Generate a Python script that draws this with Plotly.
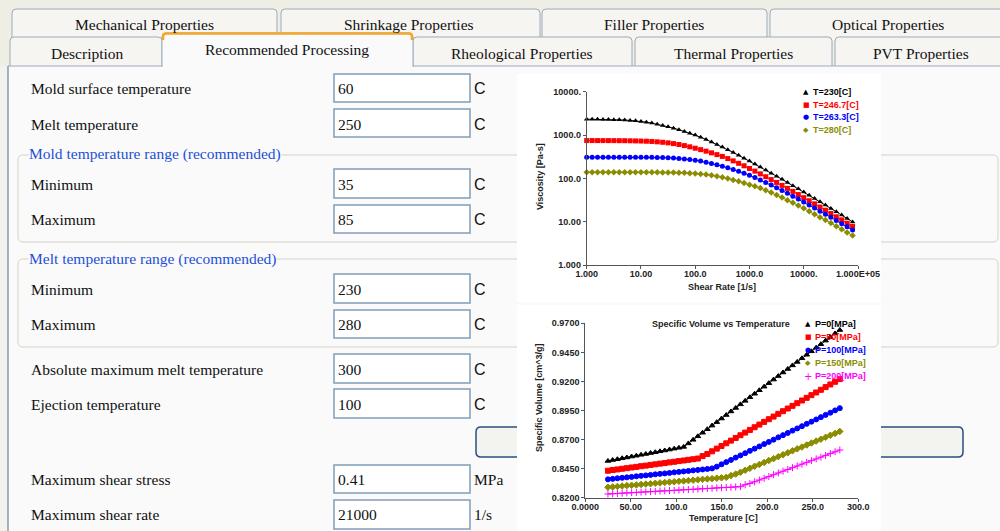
import plotly.graph_objects as go

# ---------------- data ----------------
shear_rate = [1.0, 1.259, 1.585, 1.995, 2.512, 3.162, 3.981, 5.012, 6.310, 7.943,
              10.0, 12.59, 15.85, 19.95, 25.12, 31.62, 39.81, 50.12, 63.10, 79.43,
              100.0, 125.9, 158.5, 199.5, 251.2, 316.2, 398.1, 501.2, 631.0, 794.3,
              1000, 1259, 1585, 1995, 2512, 3162, 3981, 5012, 6310, 7943,
              10000, 12589, 15849, 19953, 25119, 31623, 39811, 50119, 63096, 79433]
visc_230 = [2317, 2312, 2307, 2296, 2280, 2265, 2245, 2215, 2175, 2125,
            2060, 1980, 1885, 1780, 1670, 1555, 1440, 1325, 1210, 1102,
            1000, 891, 789, 693, 607, 528, 458, 395, 340, 292,
            251, 214, 183, 156, 132, 112, 95.1, 80.4, 67.9, 57.3,
            48.3, 40.6, 34.2, 28.7, 24.1, 20.2, 16.9, 14.2, 11.8, 9.89]
visc_2467 = [745, 745, 744, 744, 743, 743, 741, 740, 736, 731,
             726, 719, 710, 697, 680, 660, 634, 604, 570, 534,
             496, 460, 424, 388, 353, 321, 286, 253, 222, 195,
             169, 147, 127, 109, 93.6, 80.5, 68.6, 58.7, 50.0, 42.3,
             35.9, 30.5, 25.8, 21.8, 18.4, 15.5, 13.0, 11.0, 9.20, 7.73]
visc_2633 = [308, 308, 308, 308, 308, 308, 307, 307, 307, 307,
             306, 306, 305, 303, 301, 298, 294, 288, 281, 273,
             263, 250, 236, 221, 205, 190, 175, 160, 146, 132,
             118, 104, 91.8, 80.4, 69.9, 60.7, 52.3, 45.0, 38.7, 33.2,
             28.3, 24.2, 20.7, 17.5, 14.8, 12.6, 10.6, 8.99, 7.59, 6.40]
visc_280 = [139, 139, 139, 139, 139, 139, 138, 138, 138, 138,
            138, 138, 138, 138, 137, 137, 136, 135, 134, 132,
            129, 126, 122, 118, 112, 106, 99.0, 92.0, 85.2, 78.4,
            71.6, 65.6, 59.6, 53.1, 47.0, 41.3, 36.2, 31.4, 27.3, 23.5,
            20.3, 17.4, 14.9, 12.7, 10.9, 9.29, 7.86, 6.67, 5.66, 4.79]
visc_names = ["T=230[C]", "T=246.7[C]", "T=263.3[C]", "T=280[C]"]
visc_xticks = [1, 10, 100, 1000, 10000, 100000]
visc_xticktext = ["1.000", "10.00", "100.0", "1000.0", "10000.", "1.000E+05"]
visc_yticks = [1, 10, 100, 1000, 10000]
visc_yticktext = ["1.000", "10.00", "100.0", "1000.0", "10000."]

temperature = [25.0, 30.2, 35.4, 40.6, 45.8, 51.0, 56.2, 61.4, 66.6, 71.8,
               77.0, 82.2, 87.4, 92.6, 97.8, 103.0, 108.2, 113.4, 118.6, 123.8,
               129.0, 134.2, 139.4, 144.6, 149.8, 155.0, 160.2, 165.4, 170.6, 175.8,
               181.0, 186.2, 191.4, 196.6, 201.8, 207.0, 212.2, 217.4, 222.6, 227.8,
               233.0, 238.2, 243.4, 248.6, 253.8, 259.0, 264.2, 269.4, 274.6, 279.8]
sv_p0 = [0.8516, 0.8524, 0.8531, 0.8539, 0.8546, 0.8554, 0.8561, 0.8569, 0.8576, 0.8584,
         0.8591, 0.8599, 0.8606, 0.8614, 0.8622, 0.8629, 0.8637, 0.8667, 0.8698, 0.8728,
         0.8759, 0.8789, 0.8820, 0.8850, 0.8881, 0.8911, 0.8942, 0.8972, 0.9003, 0.9033,
         0.9064, 0.9094, 0.9124, 0.9155, 0.9185, 0.9216, 0.9246, 0.9277, 0.9307, 0.9338,
         0.9368, 0.9399, 0.9429, 0.9459, 0.9490, 0.9520, 0.9551, 0.9581, 0.9612, 0.9642]
sv_p50 = [0.8432, 0.8438, 0.8443, 0.8449, 0.8454, 0.8460, 0.8465, 0.8471, 0.8476, 0.8482,
          0.8487, 0.8493, 0.8498, 0.8504, 0.8509, 0.8515, 0.8520, 0.8526, 0.8531, 0.8537,
          0.8558, 0.8576, 0.8599, 0.8622, 0.8645, 0.8668, 0.8691, 0.8714, 0.8737, 0.8760,
          0.8783, 0.8806, 0.8829, 0.8852, 0.8875, 0.8898, 0.8921, 0.8944, 0.8967, 0.8990,
          0.9013, 0.9036, 0.9059, 0.9082, 0.9105, 0.9128, 0.9151, 0.9174, 0.9197, 0.9220]
sv_p100 = [0.8358, 0.8362, 0.8367, 0.8371, 0.8375, 0.8379, 0.8384, 0.8388, 0.8392, 0.8396,
           0.8401, 0.8405, 0.8409, 0.8413, 0.8418, 0.8422, 0.8426, 0.8430, 0.8435, 0.8439,
           0.8443, 0.8447, 0.8452, 0.8467, 0.8487, 0.8506, 0.8525, 0.8545, 0.8564, 0.8583,
           0.8603, 0.8622, 0.8641, 0.8661, 0.8680, 0.8699, 0.8719, 0.8738, 0.8757, 0.8777,
           0.8796, 0.8815, 0.8835, 0.8854, 0.8873, 0.8893, 0.8912, 0.8931, 0.8951, 0.8970]
sv_p150 = [0.8290, 0.8293, 0.8297, 0.8300, 0.8304, 0.8307, 0.8310, 0.8314, 0.8317, 0.8320,
           0.8324, 0.8327, 0.8331, 0.8334, 0.8337, 0.8341, 0.8344, 0.8347, 0.8351, 0.8354,
           0.8358, 0.8361, 0.8364, 0.8368, 0.8371, 0.8375, 0.8390, 0.8403, 0.8419, 0.8436,
           0.8453, 0.8470, 0.8486, 0.8503, 0.8520, 0.8536, 0.8553, 0.8570, 0.8586, 0.8603,
           0.8620, 0.8636, 0.8653, 0.8670, 0.8687, 0.8703, 0.8720, 0.8737, 0.8753, 0.8770]
sv_p200 = [0.8232, 0.8234, 0.8236, 0.8239, 0.8241, 0.8243, 0.8245, 0.8248, 0.8250, 0.8252,
           0.8254, 0.8257, 0.8259, 0.8261, 0.8263, 0.8266, 0.8268, 0.8270, 0.8272, 0.8275,
           0.8277, 0.8279, 0.8281, 0.8284, 0.8286, 0.8288, 0.8290, 0.8293, 0.8295, 0.8312,
           0.8322, 0.8337, 0.8352, 0.8367, 0.8382, 0.8398, 0.8413, 0.8428, 0.8443, 0.8458,
           0.8473, 0.8489, 0.8504, 0.8519, 0.8534, 0.8549, 0.8564, 0.8580, 0.8595, 0.8610]
pvt_names = ["P=0[MPa]", "P=50[MPa]", "P=100[MPa]", "P=150[MPa]", "P=200[MPa]"]
pvt_xticks = [0, 50, 100, 150, 200, 250, 300]
pvt_xticktext = ["0.0000", "50.00", "100.0", "150.0", "200.0", "250.0", "300.0"]
pvt_yticks = [0.82, 0.845, 0.87, 0.895, 0.92, 0.945, 0.97]
pvt_yticktext = ["0.8200", "0.8450", "0.8700", "0.8950", "0.9200", "0.9450", "0.9700"]

tabs_row1 = ["Mechanical Properties", "Shrinkage Properties", "Filler Properties", "Optical Properties"]
tabs_row2 = ["Description", "Recommended Processing", "Rheological Properties", "Thermal Properties", "PVT Properties"]
field_labels = ["Mold surface temperature", "Melt temperature", "Minimum", "Maximum", "Minimum", "Maximum",
                "Absolute maximum melt temperature", "Ejection temperature", "Maximum shear stress", "Maximum shear rate"]
field_values = ["60", "250", "35", "85", "230", "280", "300", "100", "0.41", "21000"]
field_units = ["C", "C", "C", "C", "C", "C", "C", "C", "MPa", "1/s"]
group_titles = ["Mold temperature range (recommended)", "Melt temperature range (recommended)"]

# ---------------- helpers ----------------
W, H = 1000, 531
SERIF = "Liberation Serif"
SANS = "Liberation Sans"


def X(p):
    return p / W


def Y(p):
    return 1 - p / H


shapes = []
annotations = []


def rect(x0, y0, x1, y1, fill, line=None, lw=1):
    shapes.append(dict(type="rect", xref="paper", yref="paper", x0=X(x0), x1=X(x1), y0=Y(y1), y1=Y(y0),
                       fillcolor=fill, layer="below",
                       line=dict(color=line if line else "rgba(0,0,0,0)", width=lw if line else 0)))


def P(x, y):
    return f"{X(x):.5f},{Y(y):.5f}"


def rpath(x0, y0, x1, y1, r, top_only=False):
    if top_only:
        return (f"M{P(x0, y1)} L{P(x0, y0 + r)} Q{P(x0, y0)} {P(x0 + r, y0)} "
                f"L{P(x1 - r, y0)} Q{P(x1, y0)} {P(x1, y0 + r)} L{P(x1, y1)}")
    return (f"M{P(x0 + r, y0)} L{P(x1 - r, y0)} Q{P(x1, y0)} {P(x1, y0 + r)} L{P(x1, y1 - r)} "
            f"Q{P(x1, y1)} {P(x1 - r, y1)} L{P(x0 + r, y1)} Q{P(x0, y1)} {P(x0, y1 - r)} "
            f"L{P(x0, y0 + r)} Q{P(x0, y0)} {P(x0 + r, y0)} Z")


def path(d, fill, line, lw=1):
    shapes.append(dict(type="path", xref="paper", yref="paper", path=d, fillcolor=fill,
                       line=dict(color=line, width=lw), layer="below"))


def hline(x0, x1, y, color, lw=1):
    shapes.append(dict(type="line", xref="paper", yref="paper", x0=X(x0), x1=X(x1), y0=Y(y), y1=Y(y),
                       line=dict(color=color, width=lw), layer="below"))


def vline(x, y0, y1, color, lw=1):
    shapes.append(dict(type="line", xref="paper", yref="paper", x0=X(x), x1=X(x), y0=Y(y0), y1=Y(y1),
                       line=dict(color=color, width=lw), layer="below"))


def text(x, y, s, size=15.5, color="#101010", family=SERIF, xanchor="left", angle=0, bold=False, bg=None):
    a = dict(x=X(x), y=Y(y), xref="paper", yref="paper", text=s, showarrow=False,
             xanchor=xanchor, yanchor="middle", textangle=angle,
             font=dict(family=family, size=size, color=color, weight="bold" if bold else "normal"))
    if bg:
        a["bgcolor"] = bg
        a["borderpad"] = 0
    annotations.append(a)


BODY = "#fafafa"
TAB_LINE = "#9eabbd"

# ---------------- dialog background ----------------
rect(0, 0, 1000, 66, "#efeee5")
rect(0, 66, 8, 531, "#f1f1ed")
rect(8, 66, 1000, 531, BODY)

# tabs row 1
row1_x = [(12, 277), (281, 540), (542, 767), (770, 1006)]
for (x0, x1) in row1_x:
    path(rpath(x0, 9, x1, 40, 4, top_only=True), "#f6f5f1", TAB_LINE)
# tabs row 2
row2_x = [(10, 162), (162, 413), (413, 632), (635, 832), (835, 1006)]
for i, (x0, x1) in enumerate(row2_x):
    if i == 1:
        continue
    path(rpath(x0, 37, x1, 66, 4, top_only=True), "#f6f5f1", TAB_LINE)
hline(8, 1000, 66, TAB_LINE)
# selected tab
path(rpath(162, 33, 413, 67, 4, top_only=True), BODY, TAB_LINE)
path(rpath(163, 33.5, 412, 40, 3, top_only=True), "rgba(0,0,0,0)", "#f4a52a", 2.5)
rect(163, 60, 412, 68, BODY)
vline(8, 66, 531, "#8e98a6", 1.5)

# group boxes
path(rpath(18, 155, 998, 242, 5), "rgba(0,0,0,0)", "#d3d3c6", 1)
path(rpath(18, 259, 998, 347, 5), "rgba(0,0,0,0)", "#d3d3c6", 1)

# input boxes
row_y = [89, 124, 184, 219, 289, 324, 369, 404, 479, 514]
box_y = [(74, 102), (109, 137), (169, 198), (205, 233), (274, 303), (310, 338),
         (354, 383), (389, 418), (465, 493), (500, 529)]
for (y0, y1) in box_y:
    rect(334, y0, 470, y1, "#ffffff", "#7f9db9", 1.5)

# button
path(rpath(476, 427, 963, 457, 5), "#f3f3ef", "#2c4f7f", 1.5)

# chart panels
rect(517, 74, 881, 302, "#ffffff")
rect(517, 305, 881, 531, "#ffffff")

# ---------------- dialog texts ----------------
row1_cx = [144, 409, 654, 888]
for s, cx in zip(tabs_row1, row1_cx):
    text(cx, 24, s, xanchor="center")
row2_cx = [87, 287, 522, 733, 921]
row2_cy = [53, 50, 53, 53, 53]
for s, cx, cy in zip(tabs_row2, row2_cx, row2_cy):
    text(cx, cy, s, xanchor="center")

for s, y in zip(field_labels, row_y):
    text(29, y, s)
for s, y in zip(field_values, row_y):
    text(336, y, s)
for s, y in zip(field_units, row_y):
    text(472, y, s, family=SANS if s == "C" else SERIF, size=16 if s == "C" else 15.5)
text(28, 154, group_titles[0], color="#1e4fd6", bg=BODY)
text(28, 259, group_titles[1], color="#1e4fd6", bg=BODY)

# ---------------- charts ----------------
fig = go.Figure()

visc_series = [visc_230, visc_2467, visc_2633, visc_280]
visc_colors = ["#000000", "#ff0000", "#0000ff", "#8c8c00"]
visc_symbols = ["triangle-up", "square", "circle", "diamond"]
visc_sizes = [5, 5, 5, 5]
for vals, c, sym, sz in zip(visc_series, visc_colors, visc_symbols, visc_sizes):
    fig.add_trace(go.Scatter(x=shear_rate, y=vals, mode="lines+markers", xaxis="x", yaxis="y",
                             line=dict(color=c, width=1), marker=dict(symbol=sym, size=sz, color=c),
                             cliponaxis=False, showlegend=False))

pvt_series = [sv_p0, sv_p50, sv_p100, sv_p150, sv_p200]
pvt_colors = ["#000000", "#ff0000", "#0000ff", "#8c8c00", "#ff00ff"]
pvt_symbols = ["triangle-up", "square", "circle", "diamond", "cross-thin"]
pvt_sizes = [5, 5, 5, 5, 5]
for vals, c, sym, sz in zip(pvt_series, pvt_colors, pvt_symbols, pvt_sizes):
    fig.add_trace(go.Scatter(x=temperature, y=vals, mode="lines+markers", xaxis="x2", yaxis="y2",
                             line=dict(color=c, width=1),
                             marker=dict(symbol=sym, size=sz, color=c, line=dict(color=c, width=1)),
                             cliponaxis=False, showlegend=False))

TICKFONT = dict(family=SANS, size=9, color="#222222", weight="bold")
axis_common = dict(showline=True, linecolor="#555555", linewidth=1, ticks="outside", ticklen=3,
                   tickcolor="#555555", tickwidth=1, showgrid=False, zeroline=False, tickfont=TICKFONT,
                   fixedrange=True)
xaxis_extra = dict(ticklabelstandoff=-3)

# legends / titles for charts (text annotations)
glyphs1 = ["▲", "■", "●", "◆"]
leg1_y = [92, 104.7, 117.3, 130]
for g, s, c, y in zip(glyphs1, visc_names, visc_colors, leg1_y):
    text(806, y, g, size=7, color=c, family="DejaVu Sans", xanchor="center")
    text(811, y, s, size=9, color=c, family=SANS, bold=True)
text(540, 177, "Viscosity [Pa-s]", size=9, color="#222222", family=SANS, xanchor="center", angle=-90, bold=True)
text(722, 287, "Shear Rate [1/s]", size=9, color="#222222", family=SANS, xanchor="center", bold=True)

glyphs2 = ["▲", "■", "●", "◆", "+"]
leg2_y = [324, 337, 350, 363, 376]
for g, s, c, y in zip(glyphs2, pvt_names, pvt_colors, leg2_y):
    text(808, y, g, size=7 if g != "+" else 10, color=c, family="DejaVu Sans", xanchor="center")
    text(813, y, s, size=9, color=c, family=SANS, bold=True)
text(721, 324, "Specific Volume vs Temperature", size=9, color="#222222", family=SANS, xanchor="center", bold=True)
text(539, 398, "Specific Volume [cm^3/g]", size=9, color="#222222", family=SANS, xanchor="center", angle=-90, bold=True)
text(723, 518, "Temperature [C]", size=9, color="#222222", family=SANS, xanchor="center", bold=True)

fig.update_layout(
    width=W, height=H, autosize=False,
    margin=dict(l=0, r=0, t=0, b=0, pad=0, autoexpand=False),
    paper_bgcolor=BODY, plot_bgcolor="rgba(0,0,0,0)",
    showlegend=False,
    xaxis=dict(domain=[X(586.7), X(858)], anchor="y", type="log", range=[0, 5],
               tickvals=visc_xticks, ticktext=visc_xticktext, **axis_common, **xaxis_extra),
    yaxis=dict(domain=[Y(265), Y(91.7)], anchor="x", type="log", range=[0, 4],
               tickvals=visc_yticks, ticktext=visc_yticktext, **axis_common),
    xaxis2=dict(domain=[X(585.2), X(858.2)], anchor="y2", range=[0, 300],
                tickvals=pvt_xticks, ticktext=pvt_xticktext, **axis_common, **xaxis_extra),
    yaxis2=dict(domain=[Y(497.7), Y(323.3)], anchor="x2", range=[0.82, 0.97],
                tickvals=pvt_yticks, ticktext=pvt_yticktext, **axis_common),
    shapes=shapes,
    annotations=annotations,
)

fig.write_html("out.html", config={"displayModeBar": False},
               post_script="document.body.style.margin='0px';document.body.style.overflow='hidden';")
